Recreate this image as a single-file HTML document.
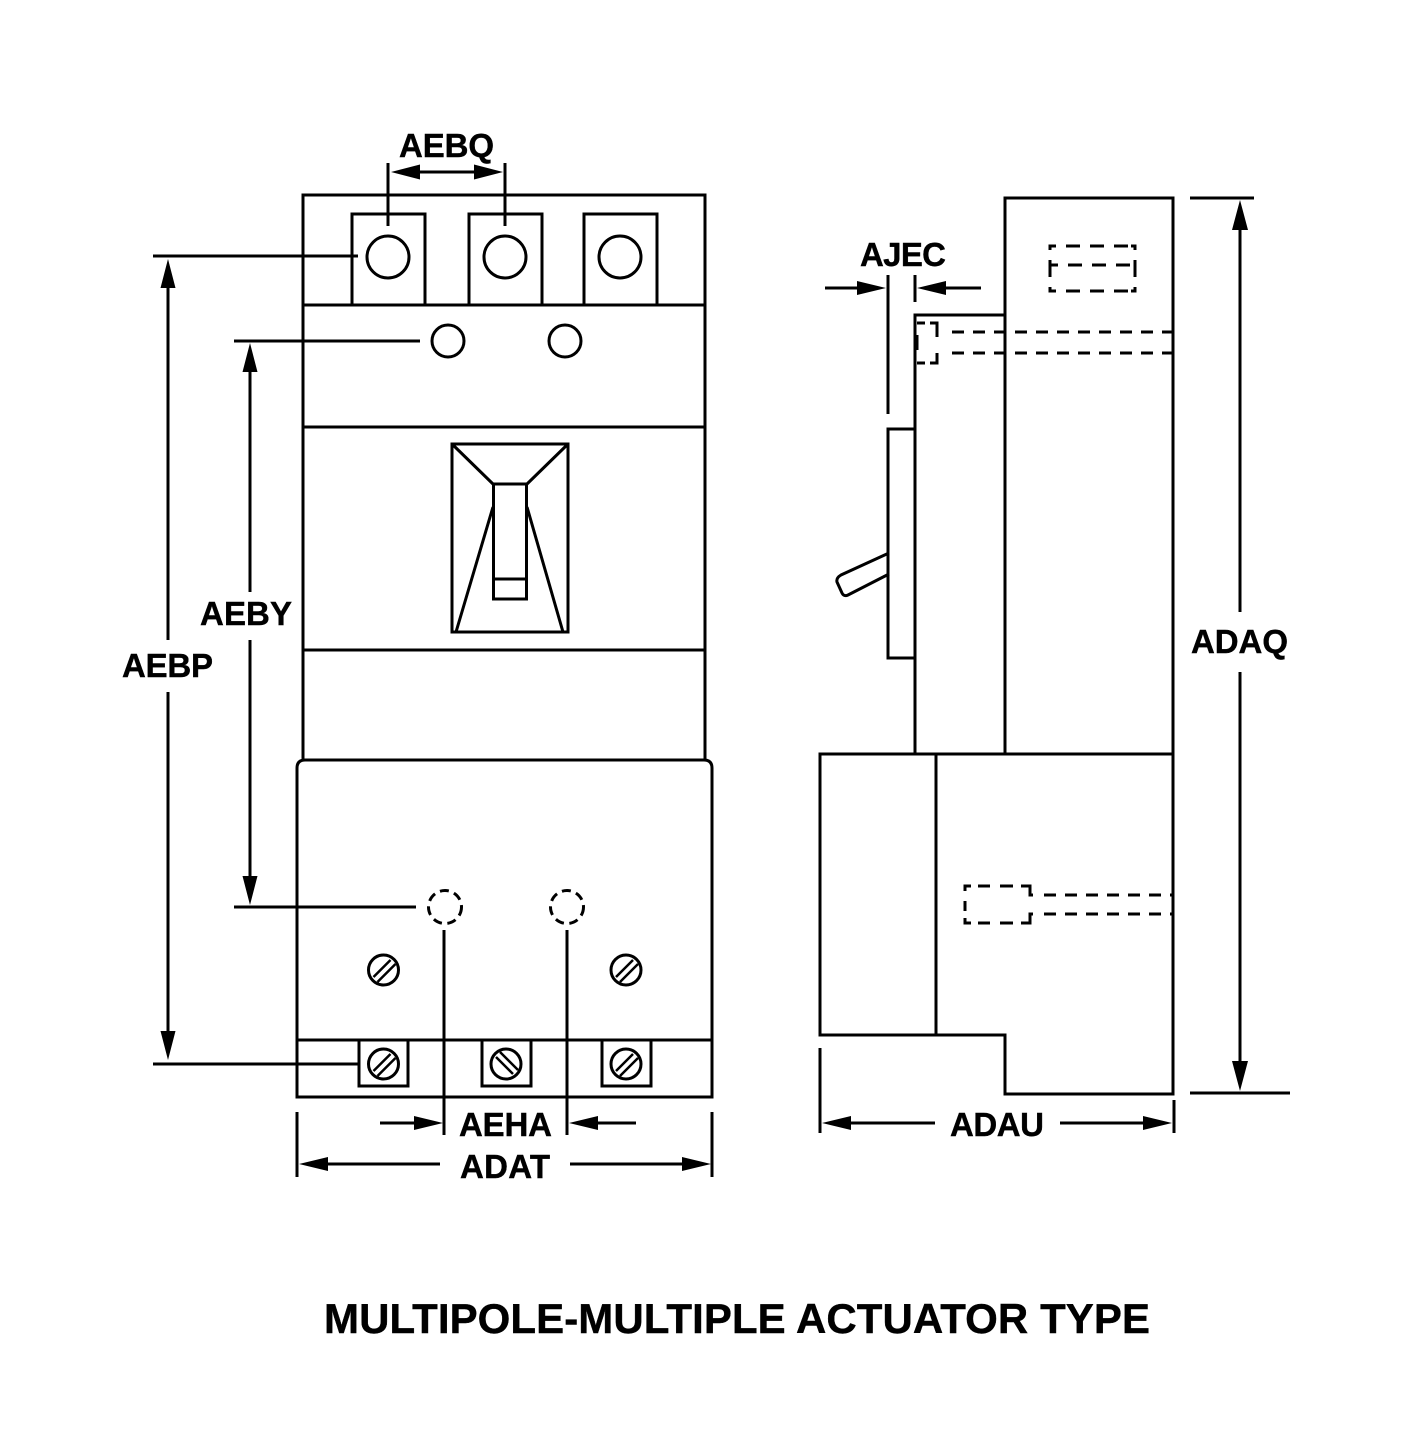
<!DOCTYPE html>
<html><head><meta charset="utf-8"><style>html,body{margin:0;padding:0;background:#fff}svg{display:block}text{font-family:"Liberation Sans",sans-serif;font-weight:bold;fill:#000;stroke:#000;stroke-width:.4}</style></head><body>
<svg xmlns="http://www.w3.org/2000/svg" width="1424" height="1440" viewBox="0 0 1424 1440">
<defs><g id="s1"><circle r="15" fill="#fff" stroke="#000" stroke-width="3"/><path d="M-10 7L7-10M-6 12L12-6" stroke="#000" stroke-width="2.500" fill="none"/></g>
<g id="s2"><circle r="15" fill="#fff" stroke="#000" stroke-width="3"/><path d="M-10-7L7 10M-6-12L12 6" stroke="#000" stroke-width="2.500" fill="none"/></g></defs>
<g fill="none" stroke="#000" stroke-width="3">
<!-- front view -->
<path d="M303 760V195H705V760M303 305H705M303 427H705M303 650H705"/>
<path d="M297 1097V768Q297 760 305 760H704Q712 760 712 768V1097ZM297 1040H712"/>
<path d="M352 305V214H425V305M469 305V214H542V305M584 305V214H657V305"/>
<circle cx="388" cy="257" r="21"/><circle cx="505" cy="257" r="21"/><circle cx="620" cy="257" r="21"/>
<circle cx="448" cy="341" r="16"/><circle cx="565" cy="341" r="16"/>
<circle cx="445" cy="907" r="16.500" stroke-dasharray="9 5.500"/><circle cx="567" cy="907" r="16.500" stroke-dasharray="9 5.500"/>
<rect x="452" y="444" width="116" height="188"/><rect x="493.500" y="484" width="33" height="115"/>
<path d="M493 579H527M452 444L493 484M568 444L527 484M493 507L456 632M527 507L563 632"/>
<path d="M359 1040V1086H408V1040M482 1040V1086H531V1040M602 1040V1086H651V1040"/>
<!-- side view -->
<path d="M1005 754V198H1173V1094H1005V1035H820V754H1173M936 754V1035M915 754V315H1005"/>
<path d="M915 429H888V658H915M889 553L841 575Q836 578 837 582L842 593Q844 597 848 595L889 574"/>
<!-- dashed hidden lines -->
<path d="M1050 250V246H1056M1066 246H1080M1090 246H1104M1114 246H1128M1131 246H1135V250M1050 260V277M1135 260V277M1050 287V291H1056M1066 291H1080M1090 291H1104M1114 291H1128M1131 291H1135V287M1050 265H1058M1068 265H1082M1092 265H1106M1116 265H1130"/>
<path d="M917 323H925M930 323H937V337M937 353V363H930M925 363H917M917 335V350"/>
<path d="M952 332H1173M952 353H1173" stroke-dasharray="12 9"/>
<path d="M965 891V886H971M978 886H990M1000 886H1013M1021 886H1030V895H1033M965 901V911M965 918V923H971M978 923H990M1000 923H1013M1021 923H1030V914H1033"/>
<path d="M1044 895H1173M1044 914H1173" stroke-dasharray="12 9"/>
<!-- dimension lines -->
<path d="M388 163V226M505 163V226M405 172H490"/>
<path d="M153 256H358M153 1064H360M234 341H420M234 907H416"/>
<path d="M168 280V640M168 692V1036M250 365V592M250 640V882"/>
<path d="M444 930V1135M567 930V1135M380 1123H420M636 1123H592"/>
<path d="M297 1112V1177M712 1112V1177M320 1164H440M570 1164H690"/>
<path d="M820 1048V1133M1174 1100V1133M845 1123H935M1060 1123H1150"/>
<path d="M1190 198H1254M1190 1093H1290M1240 225V612M1240 672V1066"/>
<path d="M888 275V414M915 275V302M825 288H865M981 288H940"/>
</g>
<g fill="#000">
<path d="M391 172L420 164.500V179.500ZM503 172L474 164.500V179.500Z"/>
<path d="M168 259L160.500 288H175.500ZM168 1060L160.500 1031H175.500Z"/>
<path d="M250 343L242.500 372H257.500ZM250 905L242.500 876H257.500Z"/>
<path d="M443 1123L414 1116V1130ZM569 1123L598 1116V1130Z"/>
<path d="M299 1164L328 1157V1171ZM711 1164L682 1157V1171Z"/>
<path d="M822 1123L851 1116V1130ZM1172 1123L1143 1116V1130Z"/>
<path d="M1240 200L1232 230H1248ZM1240 1091L1232 1061H1248Z"/>
<path d="M886 288L857 281V295ZM917 288L946 281V295Z"/>
</g>
<use href="#s1" x="383.500" y="970"/><use href="#s1" x="626" y="970"/>
<use href="#s1" x="383.500" y="1064"/><use href="#s2" x="506" y="1064"/><use href="#s1" x="626" y="1064"/>
<g font-size="33">
<text x="399" y="157" textLength="95">AEBQ</text>
<text x="860" y="266" textLength="86">AJEC</text>
<text x="200" y="625" textLength="92">AEBY</text>
<text x="122" y="677" textLength="91">AEBP</text>
<text x="459" y="1136" textLength="93">AEHA</text>
<text x="460" y="1178" textLength="90">ADAT</text>
<text x="950" y="1136" textLength="94">ADAU</text>
<text x="1191" y="653" textLength="97">ADAQ</text>
</g>
<text x="324" y="1333" font-size="42" textLength="826">MULTIPOLE-MULTIPLE ACTUATOR TYPE</text>
</svg>
</body></html>
